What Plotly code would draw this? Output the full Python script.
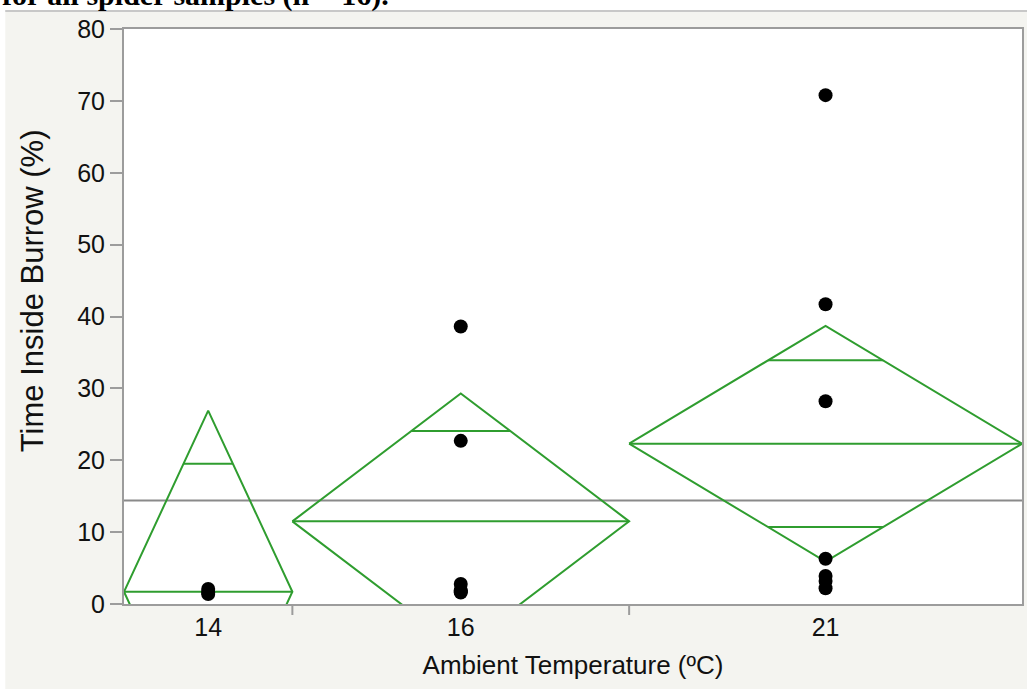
import math
import plotly.graph_objects as go

# Time spent inside the burrow by ambient temperature (one-way means diamonds)
categories = ["14", "16", "21"]
counts = [3, 6, 7]
points_14 = [2.1, 1.6, 1.4]
points_16 = [38.6, 22.7, 2.8, 1.9, 1.7, 1.6]
points_21 = [70.8, 41.7, 28.2, 6.3, 3.9, 3.2, 2.2]
group_means = [1.7, 11.5, 22.3]
ci_half = [25.2, 17.8, 16.4]      # half-width of the 95% CI of each mean
grand_mean = 14.4
y_ticks = [0, 10, 20, 30, 40, 50, 60, 70, 80]

groups = [points_14, points_16, points_21]
GREEN = "#2f9d2f"
AX = "#9c9c9c"

fig = go.Figure()

# category bands are proportional to sample size
edges = [0]
for n in counts:
    edges.append(edges[-1] + n)
centers = [(edges[i] + edges[i + 1]) / 2 for i in range(len(counts))]

# grand mean reference line
fig.add_trace(go.Scatter(x=[0, edges[-1]], y=[grand_mean, grand_mean], mode="lines",
                         line=dict(color="#8a8a8a", width=2), hoverinfo="skip", showlegend=False))

for i in range(len(counts)):
    L, R, C = edges[i], edges[i + 1], centers[i]
    m, h = group_means[i], ci_half[i]
    # diamond outline
    fig.add_trace(go.Scatter(x=[L, C, R, C, L], y=[m, m + h, m, m - h, m], mode="lines",
                             line=dict(color=GREEN, width=2), hoverinfo="skip", showlegend=False))
    # mean line
    fig.add_trace(go.Scatter(x=[L, R], y=[m, m], mode="lines",
                             line=dict(color=GREEN, width=2), hoverinfo="skip", showlegend=False))
    # overlap marks
    k = 1 / math.sqrt(2)
    hw = (R - L) / 2 * (1 - k)
    for s in (1, -1):
        fig.add_trace(go.Scatter(x=[C - hw, C + hw], y=[m + s * h * k] * 2, mode="lines",
                                 line=dict(color=GREEN, width=2), hoverinfo="skip", showlegend=False))
    # observations
    fig.add_trace(go.Scatter(x=[C] * len(groups[i]), y=groups[i], mode="markers",
                             marker=dict(color="black", size=14), showlegend=False))

W, H = 1027, 689
ml, mr, mt, mb = 124, 3, 29, 85
pw, ph = W - ml - mr, H - mt - mb


def px_x(p):
    return (p - ml) / pw


def px_y(p):
    return (H - mb - p) / ph


shapes = [
    # white strip at the top and left of the page
    dict(type="rect", xref="paper", yref="paper", x0=px_x(-10), x1=px_x(W + 10),
         y0=px_y(10), y1=px_y(-10), fillcolor="white", line=dict(width=0), layer="below"),
    dict(type="rect", xref="paper", yref="paper", x0=px_x(-10), x1=px_x(5),
         y0=px_y(H + 10), y1=px_y(-10), fillcolor="white", line=dict(width=0), layer="below"),
    dict(type="line", xref="paper", yref="paper", x0=px_x(5), x1=px_x(W + 10),
         y0=px_y(11), y1=px_y(11), line=dict(color="#c8c8c8", width=2)),
]
# divider ticks between category bands
for e in edges[1:-1]:
    shapes.append(dict(type="line", xref="x", yref="paper", x0=e, x1=e,
                       y0=0, y1=-11 / ph, line=dict(color=AX, width=2)))

annotations = [
    # caption line running off the top of the page
    dict(text="<b>for all spider samples (n = 16).</b>", xref="paper", yref="paper",
         x=px_x(0), y=px_y(14), xanchor="left", yanchor="bottom", showarrow=False,
         font=dict(family="Liberation Serif, Times New Roman, serif", size=30, color="black")),
    # y-axis title
    dict(text="Time Inside Burrow (%)", xref="paper", yref="paper", x=px_x(32), y=px_y(291),
         xanchor="center", yanchor="middle", textangle=-90, showarrow=False,
         font=dict(size=31, color="#111111")),
]

fig.update_layout(
    width=W, height=H,
    margin=dict(l=ml, r=mr, t=mt, b=mb),
    paper_bgcolor="#f4f4f0",
    plot_bgcolor="white",
    font=dict(family="Liberation Sans, Arial, sans-serif", color="#111111"),
    shapes=shapes,
    annotations=annotations,
    xaxis=dict(range=[0, edges[-1]], tickvals=centers, ticktext=categories, ticks="",
               showgrid=False, zeroline=False, showline=True, linecolor=AX, linewidth=2,
               mirror=True, tickfont=dict(size=25),
               title=dict(text="Ambient Temperature (ºC)", font=dict(size=26), standoff=16)),
    yaxis=dict(range=[0, 80], tickvals=y_ticks, ticks="outside", ticklen=12, tickwidth=2,
               tickcolor=AX, showgrid=False, zeroline=False, showline=True, linecolor=AX,
               linewidth=2, mirror=True, tickfont=dict(size=25)),
)

fig.write_html("out.html")
